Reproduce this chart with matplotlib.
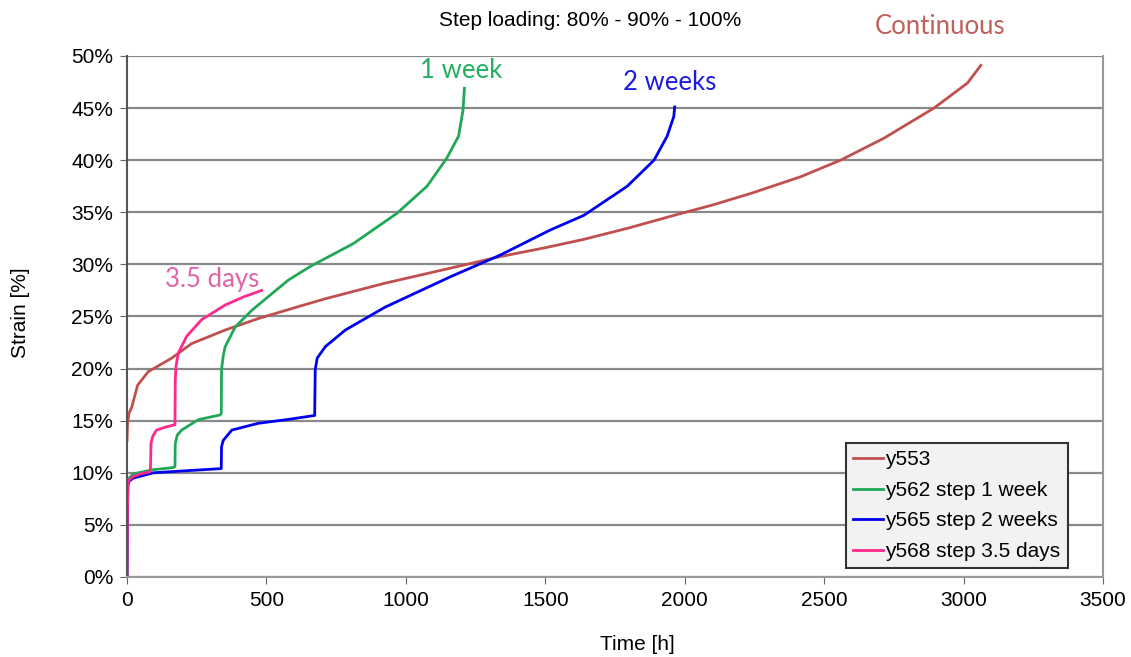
import matplotlib
matplotlib.use("Agg")
import matplotlib.pyplot as plt
from matplotlib.ticker import FuncFormatter, MultipleLocator

plt.rcParams['font.family'] = ['Liberation Sans', 'DejaVu Sans']

# y553 - continuous loading
t_y553 = [0, 2, 7, 17, 38, 76, 160, 232, 352, 471, 621, 711, 926, 1170, 1339,
          1500, 1638, 1800, 1961, 2100, 2236, 2415, 2559, 2714, 2894, 3014, 3062]
s_y553 = [13.1, 14.8, 15.7, 16.3, 18.4, 19.7, 21.0, 22.4, 23.7, 24.8, 26.0, 26.7, 28.2,
          29.7, 30.75, 31.6, 32.4, 33.5, 34.7, 35.7, 36.8, 38.4, 40.0, 42.1, 45.0, 47.4, 49.1]

# y562 - step 1 week
t_y562 = [0, 1, 3, 8, 23, 95, 166, 172, 173, 180, 196, 256, 334, 338, 339, 345, 352,
          388, 448, 520, 579, 657, 812, 968, 1076, 1147, 1189, 1205, 1210]
s_y562 = [0, 5, 9.0, 9.5, 9.9, 10.3, 10.5, 10.6, 12.8, 13.6, 14.1, 15.1, 15.55, 15.7,
          19.9, 21.2, 22.1, 24.0, 25.6, 27.2, 28.5, 29.8, 32.0, 34.9, 37.5, 40.2, 42.3,
          44.8, 46.9]

# y565 - step 2 weeks
t_y565 = [0, 1, 3, 8, 23, 95, 214, 338, 339, 345, 376, 471, 573, 673, 675, 682, 711,
          783, 926, 1159, 1339, 1518, 1638, 1794, 1890, 1937, 1961, 1964]
s_y565 = [0, 5, 8.8, 9.2, 9.5, 10.0, 10.2, 10.4, 12.5, 13.1, 14.1, 14.75, 15.1, 15.5,
          19.9, 21.0, 22.1, 23.7, 25.9, 28.8, 30.9, 33.3, 34.7, 37.5, 40.0, 42.3, 44.2, 45.1]

# y568 - step 3.5 days
t_y568 = [0, 1, 3, 8, 19, 50, 83, 84, 86, 92, 106, 140, 170, 172, 173, 176, 184, 214,
          268, 352, 420, 483]
s_y568 = [0, 5, 9.0, 9.3, 9.6, 9.9, 10.1, 10.3, 12.8, 13.5, 14.1, 14.4, 14.6, 14.6,
          18.9, 20.3, 21.5, 23.1, 24.7, 26.1, 26.9, 27.5]

fig = plt.figure(figsize=(11.31, 6.57), dpi=100)
ax = fig.add_axes([0.1123, 0.1218, 0.8629, 0.7930])

ax.plot(t_y553, s_y553, color='#c0504d', lw=2, label='y553')
ax.plot(t_y562, s_y562, color='#21a857', lw=2, label='y562 step 1 week')
ax.plot(t_y565, s_y565, color='#0000f0', lw=2, label='y565 step 2 weeks')
ax.plot(t_y568, s_y568, color='#ff2a8a', lw=2, label='y568 step 3.5 days')

ax.set_xlim(0, 3500)
ax.set_ylim(0, 50)
ax.xaxis.set_major_locator(MultipleLocator(500))
ax.yaxis.set_major_locator(MultipleLocator(5))
ax.yaxis.set_major_formatter(FuncFormatter(lambda v, p: '%d%%' % v))
ax.grid(axis='y', color='#8a8a8a', lw=1.6)
ax.set_axisbelow(True)
ax.tick_params(labelsize=15, length=5, color='#666666', pad=5)

ax.spines['top'].set_visible(False)
ax.spines['left'].set_color('#555555')
ax.spines['bottom'].set_color('#999999')
ax.spines['right'].set_color('#999999')
for s in ['left', 'bottom', 'right']:
    ax.spines[s].set_linewidth(1.5)

ax.set_xlabel('Time [h]', fontsize=15, va='center', ha='center')
ax.set_ylabel('Strain [%]', fontsize=15, va='center', ha='center')
ax.xaxis.set_label_coords(0.5225, -0.1305)
ax.yaxis.set_label_coords(-0.1096, 0.507)

fig.text(590 / 1131, 1 - 20 / 657, 'Step loading: 80% - 90% - 100%', fontsize=15,
         ha='center', va='center')

ann = ['Lato', 'DejaVu Sans']
fig.text(940 / 1131, 1 - 27 / 657, 'Continuous', color='#c0605a', fontsize=18.5,
         ha='center', va='center', family=ann)
fig.text(461 / 1131, 1 - 70 / 657, '1 week', color='#20b060', fontsize=18.5,
         ha='center', va='center', family=ann)
fig.text(670 / 1131, 1 - 82 / 657, '2 weeks', color='#1c1ce0', fontsize=18.5,
         ha='center', va='center', family=ann)
fig.text(212 / 1131, 1 - 280 / 657, '3.5 days', color='#e065a8', fontsize=18.5,
         ha='center', va='center', family=ann)

leg = ax.legend(loc='lower right', bbox_to_anchor=(0.964, 0.017), borderaxespad=0,
                fontsize=15, fancybox=False, handlelength=1.45, handletextpad=0.1,
                labelspacing=0.55, borderpad=0.35, framealpha=1)
leg.get_frame().set_facecolor('#f2f2f2')
leg.get_frame().set_edgecolor('#333333')
leg.get_frame().set_linewidth(1.5)

fig.savefig('out.png', dpi=100)
